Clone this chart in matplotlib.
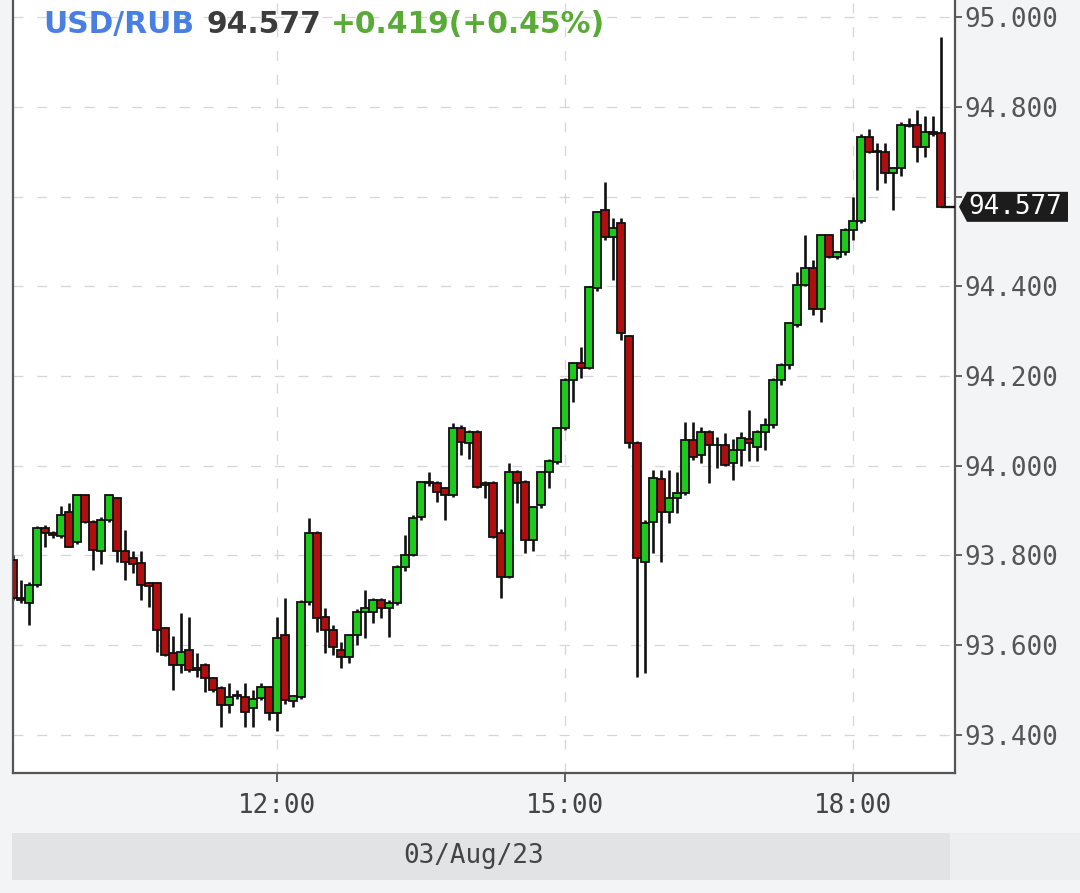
import matplotlib
matplotlib.use("Agg")
import matplotlib.pyplot as plt
import matplotlib.dates as mdates
import matplotlib.patches as mpatches
from matplotlib.transforms import IdentityTransform
import numpy as np
import pandas as pd

# ---------------- data ----------------
symbol = "USD/RUB"
last_price = "94.577"
change_text = "+0.419(+0.45%)"
date_label = "03/Aug/23"
start_time = "2023-08-03 09:15"

opens = [93.790, 93.705, 93.695, 93.735, 93.862, 93.850, 93.843, 93.897, 93.830, 93.935,
         93.875, 93.810, 93.880, 93.928, 93.810, 93.795, 93.783, 93.738, 93.738, 93.638,
         93.583, 93.556, 93.590, 93.550, 93.556, 93.527, 93.505, 93.467, 93.487, 93.485,
         93.460, 93.482, 93.507, 93.449, 93.623, 93.475, 93.485, 93.696, 93.850, 93.663,
         93.634, 93.590, 93.574, 93.623, 93.674, 93.674, 93.700, 93.683, 93.694, 93.775,
         93.800, 93.886, 93.963, 93.962, 93.950, 93.935, 94.084, 94.050, 94.075, 93.958,
         93.962, 93.850, 93.752, 93.985, 93.964, 93.835, 93.912, 93.985, 94.008, 94.084,
         94.190, 94.229, 94.218, 94.396, 94.570, 94.510, 94.540, 94.290, 94.050, 93.786,
         93.875, 93.970, 93.897, 93.928, 93.940, 94.057, 94.024, 94.075, 94.046, 94.046,
         94.006, 94.035, 94.060, 94.042, 94.075, 94.090, 94.190, 94.224, 94.314, 94.403,
         94.440, 94.350, 94.514, 94.465, 94.476, 94.525, 94.545, 94.733, 94.700, 94.700,
         94.652, 94.663, 94.760, 94.760, 94.710, 94.744, 94.742]
highs = [93.800, 93.745, 93.740, 93.865, 93.868, 93.855, 93.910, 93.917, 93.935, 93.935,
         93.880, 93.885, 93.935, 93.930, 93.857, 93.810, 93.810, 93.742, 93.740, 93.640,
         93.620, 93.672, 93.663, 93.583, 93.560, 93.530, 93.510, 93.516, 93.500, 93.516,
         93.500, 93.516, 93.510, 93.663, 93.705, 93.490, 93.700, 93.884, 93.855, 93.683,
         93.645, 93.607, 93.625, 93.680, 93.723, 93.705, 93.705, 93.700, 93.778, 93.845,
         93.890, 93.966, 93.986, 93.966, 93.952, 94.095, 94.090, 94.080, 94.080, 93.965,
         93.965, 93.860, 94.006, 93.990, 93.968, 93.910, 93.988, 94.015, 94.086, 94.195,
         94.232, 94.265, 94.400, 94.568, 94.632, 94.552, 94.552, 94.292, 94.055, 93.880,
         93.990, 93.990, 93.990, 93.986, 94.098, 94.098, 94.086, 94.080, 94.064, 94.073,
         94.060, 94.075, 94.124, 94.080, 94.106, 94.195, 94.228, 94.320, 94.432, 94.514,
         94.458, 94.516, 94.516, 94.478, 94.530, 94.600, 94.740, 94.750, 94.720, 94.720,
         94.665, 94.765, 94.775, 94.793, 94.780, 94.780, 94.955]
lows = [93.700, 93.695, 93.645, 93.730, 93.820, 93.838, 93.840, 93.818, 93.825, 93.872,
        93.768, 93.780, 93.875, 93.785, 93.745, 93.762, 93.700, 93.685, 93.585, 93.575,
        93.500, 93.538, 93.540, 93.530, 93.496, 93.495, 93.418, 93.450, 93.480, 93.418,
        93.418, 93.478, 93.433, 93.410, 93.470, 93.462, 93.480, 93.690, 93.630, 93.583,
        93.578, 93.550, 93.560, 93.600, 93.616, 93.650, 93.660, 93.618, 93.690, 93.765,
        93.798, 93.880, 93.955, 93.920, 93.880, 93.930, 94.024, 94.015, 93.950, 93.928,
        93.838, 93.705, 93.750, 93.917, 93.806, 93.810, 93.905, 93.950, 94.005, 94.080,
        94.142, 94.195, 94.215, 94.390, 94.503, 94.414, 94.280, 94.040, 93.530, 93.538,
        93.806, 93.786, 93.872, 93.895, 93.935, 94.013, 94.006, 93.962, 93.996, 94.000,
        93.968, 94.000, 94.010, 94.010, 94.035, 94.085, 94.180, 94.215, 94.310, 94.400,
        94.336, 94.320, 94.462, 94.460, 94.470, 94.503, 94.540, 94.698, 94.615, 94.630,
        94.570, 94.645, 94.755, 94.677, 94.688, 94.735, 94.577]
closes = [93.705, 93.700, 93.735, 93.862, 93.850, 93.845, 93.890, 93.820, 93.935, 93.875,
          93.813, 93.880, 93.935, 93.810, 93.785, 93.780, 93.735, 93.732, 93.634, 93.578,
          93.556, 93.585, 93.545, 93.545, 93.527, 93.500, 93.467, 93.485, 93.490, 93.452,
          93.480, 93.508, 93.449, 93.616, 93.478, 93.488, 93.696, 93.850, 93.660, 93.634,
          93.596, 93.574, 93.623, 93.674, 93.683, 93.700, 93.683, 93.694, 93.775, 93.800,
          93.884, 93.964, 93.962, 93.942, 93.935, 94.084, 94.053, 94.075, 93.953, 93.962,
          93.841, 93.752, 93.985, 93.962, 93.835, 93.908, 93.985, 94.010, 94.084, 94.191,
          94.230, 94.218, 94.398, 94.565, 94.510, 94.530, 94.295, 94.050, 93.795, 93.873,
          93.973, 93.897, 93.928, 93.940, 94.057, 94.020, 94.075, 94.046, 94.046, 94.002,
          94.035, 94.062, 94.050, 94.075, 94.090, 94.190, 94.224, 94.318, 94.403, 94.440,
          94.350, 94.514, 94.465, 94.476, 94.525, 94.545, 94.733, 94.700, 94.702, 94.652,
          94.663, 94.760, 94.758, 94.710, 94.744, 94.740, 94.577]

y_ticks = [93.4, 93.6, 93.8, 94.0, 94.2, 94.4, 94.6, 94.8, 95.0]
x_tick_labels = ["12:00", "15:00", "18:00"]

# ---------------- styling ----------------
W, H = 1080, 893
BG = "#f3f4f6"
UP = "#1ec81e"
DOWN = "#b00f0f"
EDGE = "#111111"
GRID = "#d6d6d6"
AXIS = "#555555"
MONO = "DejaVu Sans Mono"

fig = plt.figure(figsize=(W / 100, H / 100), dpi=100, facecolor=BG)
ax = fig.add_axes([13 / W, 120 / H, (955 - 13) / W, 1 - 120 / H])
ax.set_facecolor("white")

times = pd.date_range(start_time, periods=len(opens), freq="5min")
xs = mdates.date2num(times.to_pydatetime())
step = 5 / 1440.0
o = np.array(opens); c = np.array(closes); h = np.array(highs); l = np.array(lows)
up = c >= o
colors = np.where(up, UP, DOWN)
bottoms = np.minimum(o, c)
heights = np.maximum(np.abs(c - o), 0.0008)

ax.vlines(xs, l, h, color=EDGE, linewidth=1.9, zorder=2)
ax.bar(xs, heights, bottom=bottoms, width=step * 0.88, color=colors,
       edgecolor=EDGE, linewidth=1.3, zorder=3, align="center")

# last price line
xmax = xs[0] + 117.75 * step
ax.plot([xs[-1], xmax], [c[-1], c[-1]], color=EDGE, lw=1.7, zorder=3,
        solid_capstyle="butt", clip_on=False)

ax.set_xlim(xs[0], xmax)
ax.set_ylim(93.3153, 95.0379)

# ticks
ax.yaxis.tick_right()
ax.set_yticks(y_ticks)
# the 94.600 label sits under the last-price tag in the reference
ax.set_yticklabels([("" if abs(v - 94.6) < 1e-9 else f"{v:.3f}") for v in y_ticks])
tick_times = [pd.Timestamp("2023-08-03 " + t) for t in x_tick_labels]
ax.set_xticks(mdates.date2num([t.to_pydatetime() for t in tick_times]))
ax.set_xticklabels(x_tick_labels)
ax.tick_params(axis="y", direction="out", length=5, width=1.3, color=AXIS,
               labelsize=18.7, labelcolor="#555555", pad=2)
ax.tick_params(axis="x", direction="out", length=6.5, width=1.3, color=AXIS,
               labelsize=18.7, labelcolor="#444444", pad=8)
for lab in ax.get_xticklabels() + ax.get_yticklabels():
    lab.set_fontfamily(MONO)

ax.grid(True, color=GRID, linewidth=0.9, linestyle=(0, (8, 11)))
ax.set_axisbelow(True)

for s in ["left", "right", "bottom"]:
    ax.spines[s].set_color(AXIS)
    ax.spines[s].set_linewidth(1.6)
ax.spines["top"].set_visible(False)

# title
TS = 21.4
t1 = fig.text(43 / W, 1 - 33 / H, symbol, color="#4a7fe2", fontsize=TS,
              fontweight="bold", va="baseline", ha="left")
t2 = ax.annotate(last_price, xy=(1, 0), xycoords=t1, xytext=(12, 0),
                 textcoords="offset pixels", va="bottom", ha="left",
                 color="#3c3c3c", fontsize=TS, fontweight="bold")
t3 = ax.annotate(change_text, xy=(1, 0), xycoords=t2, xytext=(10, 0),
                 textcoords="offset pixels", va="bottom", ha="left",
                 color="#5aaa38", fontsize=TS, fontweight="bold")

# last price tag
fig.canvas.draw()
axx, axy = ax.transData.transform((xmax, c[-1]))
poly = mpatches.Polygon([(axx + 4, axy), (axx + 12, axy + 15), (axx + 113, axy + 15),
                         (axx + 113, axy - 15), (axx + 12, axy - 15)], closed=True,
                        facecolor="#1c1c1c", edgecolor="none",
                        transform=IdentityTransform(), zorder=5)
fig.add_artist(poly)
fig.text(axx + 13, axy, f"{c[-1]:.3f}", transform=IdentityTransform(),
         va="center", ha="left", color="white", fontsize=18.7,
         fontfamily=MONO, zorder=6)

# date band
fig.add_artist(mpatches.Rectangle((12 / W, 13 / H), (950 - 12) / W, 47 / H,
                                  transform=fig.transFigure, facecolor="#e2e3e5",
                                  edgecolor="none"))
fig.add_artist(mpatches.Rectangle((950 / W, 13 / H), (W - 950) / W, 47 / H,
                                  transform=fig.transFigure, facecolor="#eceef0",
                                  edgecolor="none"))
fig.text(474 / W, 1 - 856 / H, date_label, ha="center", va="center",
         fontsize=18.7, fontfamily=MONO, color="#444444")

fig.savefig("out.png", dpi=100, facecolor=BG)
